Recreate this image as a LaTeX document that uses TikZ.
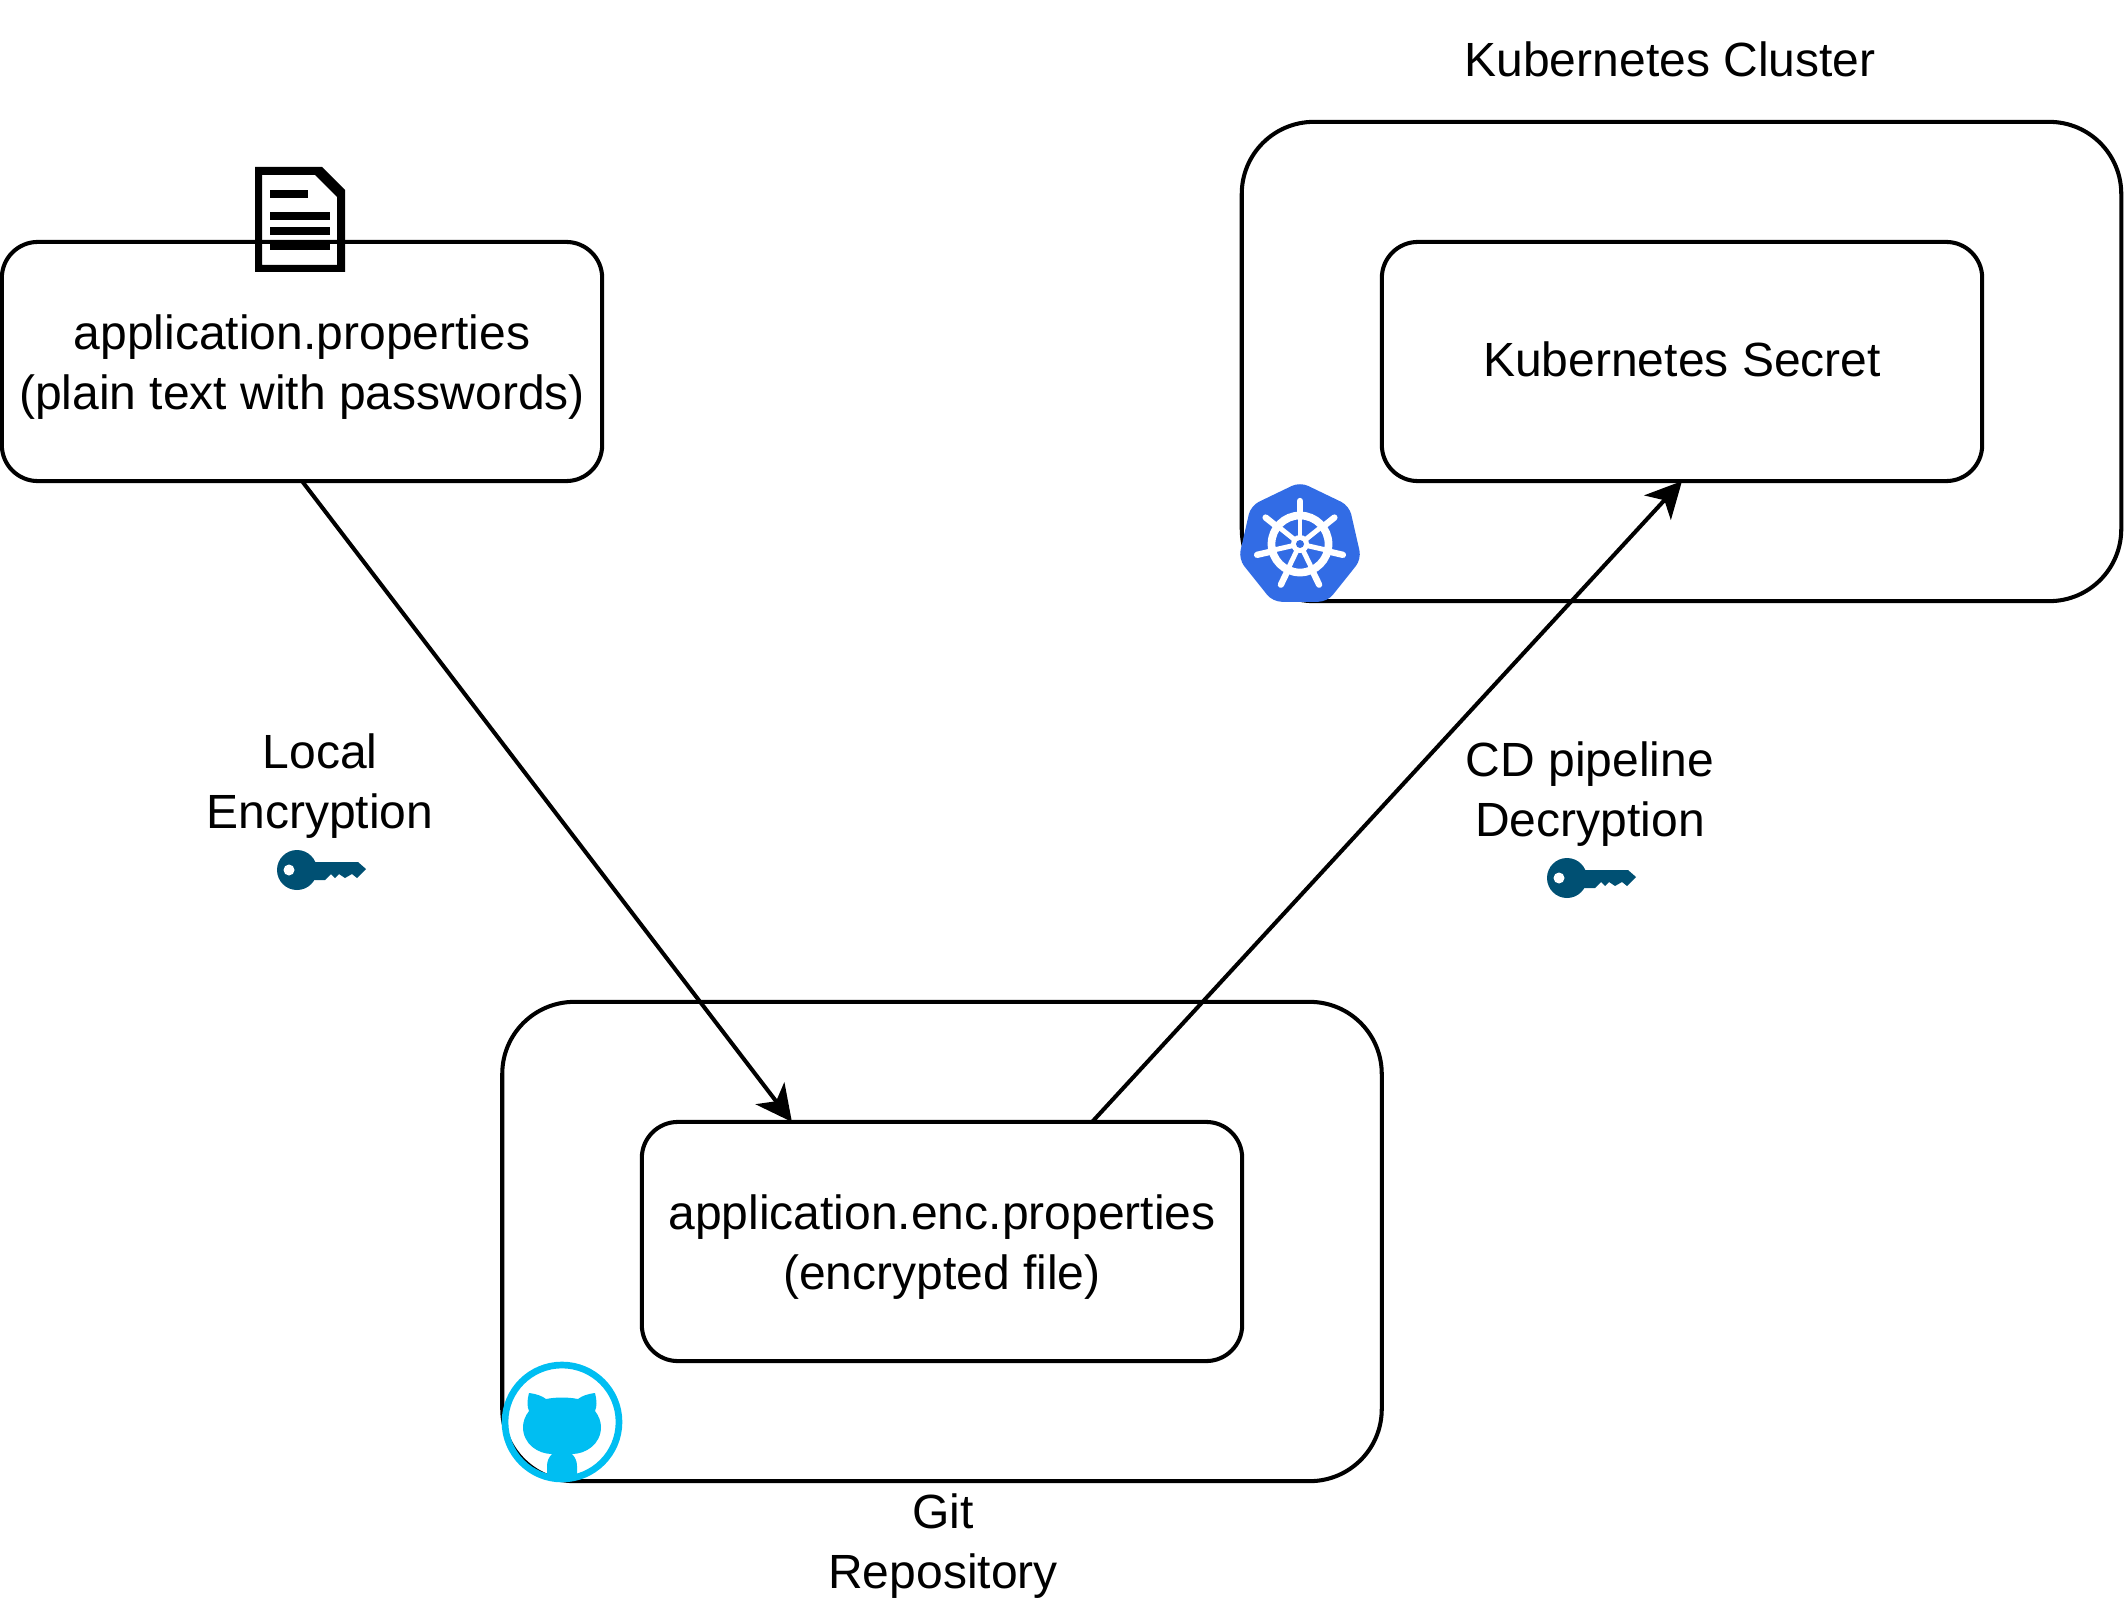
\documentclass[tikz,border=0pt]{standalone}
\usepackage{fontspec}
\setmainfont{Liberation Sans}
\usepackage[HTML]{xcolor}
\usetikzlibrary{positioning, arrows.meta, calc}
\definecolor{keyblue}{HTML}{005073}
\definecolor{kubeblue}{HTML}{326CE5}
\definecolor{gitcyan}{HTML}{00BEF2}
\newcommand{\lowertext}{\rule{0pt}{13pt}}
\newcommand{\raisetext}{\rule[-1.5pt]{0pt}{1.5pt}}

\tikzset{
  lbl/.style={align=center,font=\fontsize{13.65}{17.07}\selectfont,inner sep=0pt},
  smallbox/.style={lbl,draw,line width=1.15pt,rounded corners=0.36cm,outer sep=0pt,
    minimum width=6cm,minimum height=2.39cm},
  bigbox/.style={draw,line width=1.15pt,rounded corners=0.72cm,outer sep=0pt,
    minimum width=8.79cm,minimum height=4.79cm},
  flow/.style={-{Stealth[length=0.36cm,width=0.36cm,inset=0.1cm]},line width=1.15pt},
  keyicon/.pic={
    \fill[keyblue] (0,0) circle (20);
    \fill[keyblue] (10,-8) -- (61,-8) -- (69,-1) -- (60,8) -- (55,4) -- (48,8) -- (42,4)
      -- (38,8) -- (34,4) -- (28,10) -- (10,10) -- cycle;
    \fill[white] (-8,0) circle (5.5);
  }
}

\begin{document}
\begin{tikzpicture}[x=0.01cm,y=-0.01cm]
\useasboundingbox (0,0) rectangle (2124,1600);

\node[bigbox] (cluster) at (1681.5,361.5) {};
\node[bigbox] (gitrepo) at (942,1241.5) {};
\node[smallbox] (plainfile) at (302,361.5) {\lowertext application.properties\\(plain text with passwords)};
\node[smallbox] (secret) at (1682,361.5) {Kubernetes Secret\raisetext};
\node[smallbox] (encfile) at (942,1241.5) {\lowertext application.enc.properties\\(encrypted file)};

\node[lbl] (clusterlbl) at (1670,59) {Kubernetes Cluster};
\node[lbl] (gitlbl) at (943,1546) {Git\\Repository};
\node[lbl] (enclbl) at (320,786) {Local\\Encryption};
\node[lbl] (declbl) at (1590,794) {CD pipeline\\Decryption};

\draw[flow] (plainfile.south) -- ($(encfile.north west)!0.25!(encfile.north east)$);
\draw[flow] ($(encfile.north west)!0.75!(encfile.north east)$) -- (secret.south);

\pic at (297,870) {keyicon};
\pic at (1567,878) {keyicon};

% document icon
\fill[even odd rule] (255,167) -- (322,167) -- (345,190) -- (345,272) -- (255,272) -- cycle
  (262,175) -- (315,175) -- (337,197) -- (337,265) -- (262,265) -- cycle;
\foreach \ya/\xb in {194/308,216/330,231/330,246/330}
  \fill (270,\ya-3.7) rectangle (\xb,\ya+3.7);

% kubernetes wheel
\begin{scope}[shift={(1300,545)}]
\fill[kubeblue,rounded corners=2.5pt] (-90:63) -- (-38.6:63) -- (12.9:63) -- (64.3:63)
  -- (115.7:63) -- (167.1:63) -- (218.6:63) -- cycle;
\draw[white,line width=2.2pt] (0,-1) circle (28.5);
\foreach \a in {-90,-38.6,12.9,64.3,115.7,167.1,218.6} {
  \draw[white,line width=1.4pt] (0,-1) -- ++(\a:28);
  \draw[white,line width=1.8pt,line cap=round] (\a:28) -- (\a:44);
}
\fill[white] (0,-1) circle (9);
\fill[kubeblue] (0,-1) circle (4);
\end{scope}

% github cat
\begin{scope}[shift={(562,1422)}]
\draw[gitcyan,line width=1.9pt] (0,0) circle (57);
\fill[gitcyan] (-33,-29) .. controls (-25,-28) and (-20,-26) .. (-16,-23)
  .. controls (-6,-25) and (6,-25) .. (16,-23)
  .. controls (20,-26) and (25,-28) .. (33,-29)
  .. controls (35,-22) and (35,-15) .. (33,-11)
  .. controls (37,-6) and (39,0) .. (39,5)
  .. controls (39,22) and (24,32) .. (10,32)
  .. controls (13,35) and (15,39) .. (15,44)
  -- (15,53) .. controls (5,55) and (-5,55) .. (-15,53) -- (-15,44)
  .. controls (-15,39) and (-13,35) .. (-10,32)
  .. controls (-24,32) and (-39,22) .. (-39,5)
  .. controls (-39,0) and (-37,-6) .. (-33,-11)
  .. controls (-35,-15) and (-35,-22) .. (-33,-29) -- cycle;
\end{scope}
\end{tikzpicture}
\end{document}
